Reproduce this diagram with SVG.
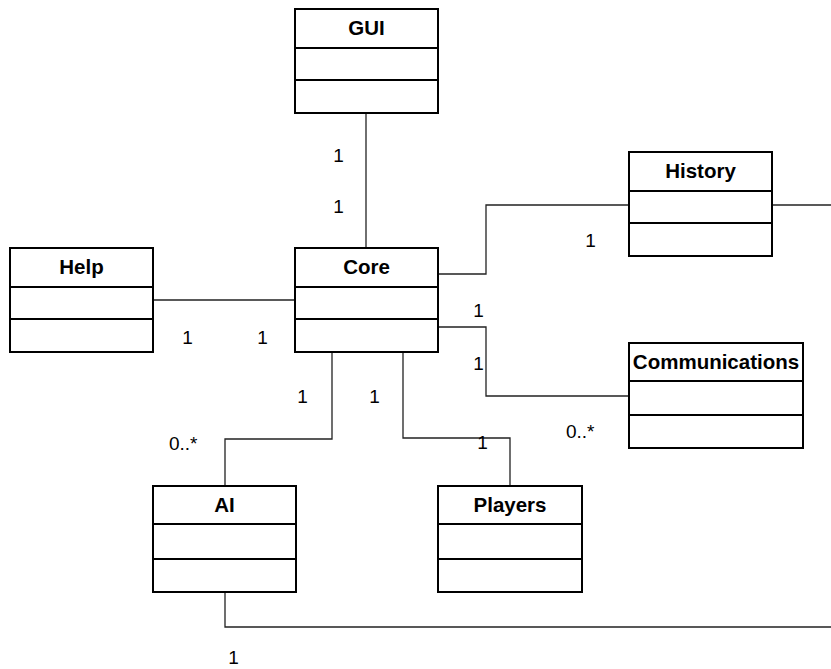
<svg xmlns="http://www.w3.org/2000/svg" width="831" height="669" viewBox="0 0 831 669">
<style>
.box{fill:#fff;stroke:#000;stroke-width:2}
.div{stroke:#000;stroke-width:2}
.title{font-family:"Liberation Sans",Arial,sans-serif;font-size:20.5px;font-weight:bold;text-anchor:middle;fill:#000}
.lbl{font-family:"Liberation Sans",Arial,sans-serif;font-size:19px;fill:#000}
.c{text-anchor:middle}
.conn{fill:none;stroke:#222;stroke-width:1.3}
</style>
<rect width="831" height="669" fill="#fff"/>
<g id="connectors">
<path class="conn" d="M366,113 V248"/>
<path class="conn" d="M153,300 H295"/>
<path class="conn" d="M438,274 H486 V205 H629"/>
<path class="conn" d="M772,205 H831"/>
<path class="conn" d="M438,327 H486 V396 H629"/>
<path class="conn" d="M332,352 V439 H225 V486"/>
<path class="conn" d="M403,352 V438 H510 V486"/>
<path class="conn" d="M225,592 V627 H831"/>
</g>
<g id="GUI">
<rect class="box" x="295" y="9" width="143" height="104"/>
<line class="div" x1="295" y1="48" x2="438" y2="48"/>
<line class="div" x1="295" y1="80" x2="438" y2="80"/>
<text class="title" x="366.5" y="35">GUI</text>
</g>
<g id="Core">
<rect class="box" x="295" y="248" width="143" height="104"/>
<line class="div" x1="295" y1="287" x2="438" y2="287"/>
<line class="div" x1="295" y1="319" x2="438" y2="319"/>
<text class="title" x="366.5" y="274">Core</text>
</g>
<g id="Help">
<rect class="box" x="10" y="248" width="143" height="104"/>
<line class="div" x1="10" y1="287" x2="153" y2="287"/>
<line class="div" x1="10" y1="319" x2="153" y2="319"/>
<text class="title" x="81.5" y="274">Help</text>
</g>
<g id="History">
<rect class="box" x="629" y="152" width="143" height="104"/>
<line class="div" x1="629" y1="191" x2="772" y2="191"/>
<line class="div" x1="629" y1="223" x2="772" y2="223"/>
<text class="title" x="700.5" y="178">History</text>
</g>
<g id="Communications">
<rect class="box" x="629" y="343" width="174" height="105"/>
<line class="div" x1="629" y1="381" x2="803" y2="381"/>
<line class="div" x1="629" y1="415" x2="803" y2="415"/>
<text class="title" x="716" y="369">Communications</text>
</g>
<g id="AI">
<rect class="box" x="153" y="486" width="143" height="106"/>
<line class="div" x1="153" y1="524" x2="296" y2="524"/>
<line class="div" x1="153" y1="559" x2="296" y2="559"/>
<text class="title" x="224.5" y="512">AI</text>
</g>
<g id="Players">
<rect class="box" x="438" y="486" width="144" height="106"/>
<line class="div" x1="438" y1="524" x2="582" y2="524"/>
<line class="div" x1="438" y1="559" x2="582" y2="559"/>
<text class="title" x="510" y="512">Players</text>
</g>
<g id="labels">
<text class="lbl c" x="338.5" y="162">1</text>
<text class="lbl c" x="338.5" y="213">1</text>
<text class="lbl c" x="187.5" y="344">1</text>
<text class="lbl c" x="262.5" y="344">1</text>
<text class="lbl c" x="478.5" y="317">1</text>
<text class="lbl c" x="478.5" y="370">1</text>
<text class="lbl c" x="590.5" y="247">1</text>
<text class="lbl" x="566" y="438">0..*</text>
<text class="lbl c" x="302.5" y="403">1</text>
<text class="lbl c" x="374.5" y="403">1</text>
<text class="lbl" x="169" y="450">0..*</text>
<text class="lbl c" x="482.5" y="449">1</text>
<text class="lbl c" x="233.5" y="664">1</text>
</g>
</svg>
